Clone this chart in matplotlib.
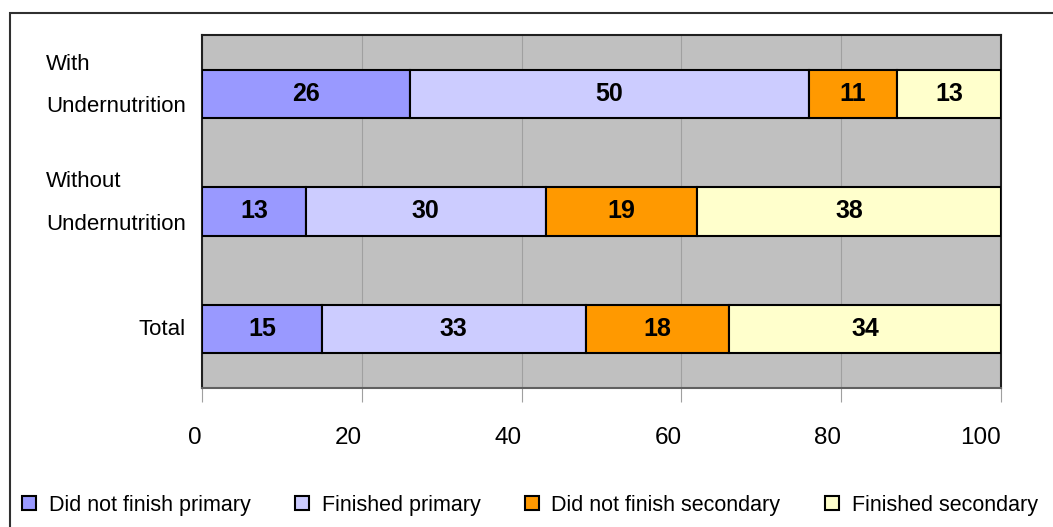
import matplotlib.pyplot as plt
from matplotlib.patches import Rectangle
from matplotlib.transforms import blended_transform_factory

# data
groups = ["With\nUndernutrition", "Without\nUndernutrition", "Total"]
series = ["Did not finish primary", "Finished primary", "Did not finish secondary", "Finished secondary"]
did_not_finish_primary = [26, 13, 15]
finished_primary = [50, 30, 33]
did_not_finish_secondary = [11, 19, 18]
finished_secondary = [13, 38, 34]
colors = ["#9999FF", "#CCCCFF", "#FF9900", "#FFFFCC"]

plt.rcParams['font.family'] = ['Liberation Sans Narrow', 'Liberation Sans', 'DejaVu Sans']

fig = plt.figure(figsize=(10.53, 5.27), dpi=100)
ax = fig.add_axes([202 / 1053, 1 - 388 / 527, 799 / 1053, 353 / 527])
ax.set_facecolor("#C0C0C0")

ypos = list(range(len(groups)))
left = [0] * len(groups)
for name, vals, col in zip(series,
                           [did_not_finish_primary, finished_primary,
                            did_not_finish_secondary, finished_secondary],
                           colors):
    bars = ax.barh(ypos, vals, left=left, height=0.41, color=col,
                   edgecolor="black", linewidth=1.5, label=name, zorder=3)
    for b, v in zip(bars, vals):
        ax.text(b.get_x() + b.get_width() / 2, b.get_y() + b.get_height() / 2, str(v),
                ha="center", va="center", fontsize=18, fontweight="bold", zorder=4)
    left = [l + v for l, v in zip(left, vals)]

ax.set_xlim(0, 100)
ax.set_ylim(2.5, -0.5)
ax.set_xticks([0, 20, 40, 60, 80, 100])
ax.set_xticklabels(["0", "20", "40", "60", "80", "100"], ha="right")
ax.tick_params(axis="x", direction="out", length=10, color="#A0A0A0", pad=18, labelsize=17.5)
ax.xaxis.grid(True, color="#A0A0A0", linewidth=0.8, zorder=0)
ax.set_axisbelow(True)

# category labels, drawn by hand so the two-line ones sit a bit higher
ax.set_yticks([])
trans = blended_transform_factory(ax.transAxes, ax.transData)
for y, g in zip(ypos, groups):
    off = 0.07 if "\n" in g else 0.0
    ax.text(-0.02, y - off, g, transform=trans, ha="right", va="center",
            multialignment="left", linespacing=2.35, fontsize=16)

for s in ax.spines.values():
    s.set_color("#202020")
    s.set_linewidth(1.5)
ax.spines["bottom"].set_color("#606060")

handles, labels = ax.get_legend_handles_labels()
fig.legend(handles, labels, loc="center left", bbox_to_anchor=(22 / 1053, 1 - 505 / 527), ncol=4,
           frameon=False, fontsize=15.5, handlelength=0.65, handleheight=0.65,
           handletextpad=0.6, columnspacing=2.05, borderpad=0, borderaxespad=0)

# outer frame of the chart area
fig.add_artist(Rectangle((9.5 / 1053, -0.1), 1.2, (527 - 12.5) / 527 + 0.1,
                         transform=fig.transFigure, fill=False, lw=1.5, edgecolor="#303030"))

fig.savefig("out.png", dpi=100)
